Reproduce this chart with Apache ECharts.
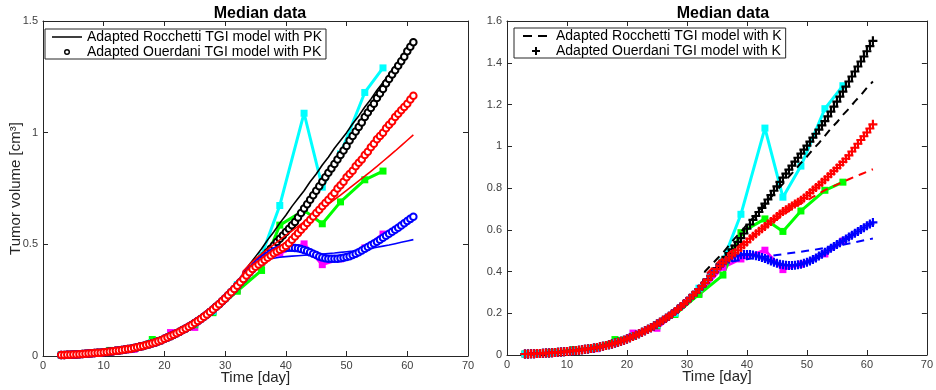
<!DOCTYPE html>
<html><head><meta charset="utf-8">
<script src="https://cdn.jsdelivr.net/npm/echarts@6/dist/echarts.min.js"></script>
<style>html,body{margin:0;padding:0;background:#fff}#c{width:936px;height:390px}</style>
</head><body><div id="c"></div>
<script>
// ---- data: measured medians ----
const dataDays = [3,5,7,8,11,14,15,18,21,25,28,32,36,39,43,46,49,53,56];
const dataCyan = [.005,.006,.009,.011,.02,.03,.034,.06,.09,.145,.2,.32,.45,.674,1.087,.756,.905,1.18,1.29];
const dataGreen = [.005,.007,.01,.013,.025,.032,.036,.074,.09,.14,.194,.29,.383,.586,.652,.592,.69,.789,.828];
const dataMagenta = [.004,.006,.008,.01,.018,.028,.03,.058,.105,.128,.2,.296,.42,.46,.502,.409,.435,.484,.546];

// ---- model sample times ----
const modelDaysEarly = [3,3.5,4,4.5,5,5.5,6,6.5,7,7.5,8,8.5,9,9.5,10,10.5,11,11.5,12,12.5,13,13.5,14,14.5,15,15.5,16,16.5,17,17.5,18,18.5,19,19.5,20,20.5,21,21.5,22,22.5,23,23.5,24,24.5,25,25.5,26,26.5,27,27.5,28,28.5,29,29.5,30,30.5,31,31.5,32,32.5,33];
const modelDaysLate = [33.5,34,34.5,35,35.5,36,36.5,37,37.5,38,38.5,39,39.5,40,40.5,41,41.5,42,42.5,43,43.5,44,44.5,45,45.5,46,46.5,47,47.5,48,48.5,49,49.5,50,50.5,51,51.5,52,52.5,53,53.5,54,54.5,55,55.5,56,56.5,57,57.5,58,58.5,59,59.5,60,60.5,61];
const lineDaysLate = [33,34,35,36,37,38,39,40,41,42,43,44,45,46,47,48,49,50,51,52,53,54,55,56,57,58,59,60,61];

// shared early growth phase (all fits coincide)
const sharedEarlyFit = [.005,.005,.006,.006,.007,.007,.008,.009,.010,.011,.012,.013,.014,.015,.017,.018,.020,.021,.023,.025,.027,.029,.031,.033,.036,.039,.042,.045,.049,.053,.057,.061,.066,.071,.077,.083,.089,.095,.102,.109,.116,.123,.131,.139,.148,.157,.166,.176,.186,.197,.208,.220,.232,.245,.258,.272,.286,.300,.315,.330,.345];

// ---- left panel: model with PK ----
const ouerdaniPkBlack = [.36,.375,.39,.405,.42,.435,.45,.465,.48,.495,.51,.525,.54,.555,.57,.585,.60,.62,.64,.66,.68,.70,.72,.74,.76,.78,.80,.82,.84,.86,.88,.90,.92,.94,.965,.985,1.005,1.025,1.045,1.07,1.09,1.11,1.13,1.155,1.175,1.195,1.22,1.24,1.26,1.28,1.30,1.32,1.34,1.365,1.385,1.405];
const ouerdaniPkRed = [.36,.375,.39,.40,.41,.42,.43,.44,.45,.46,.468,.476,.484,.493,.505,.52,.535,.55,.565,.58,.595,.61,.625,.64,.655,.67,.685,.70,.715,.73,.75,.765,.78,.80,.815,.83,.85,.865,.88,.90,.915,.935,.95,.97,.985,1.0,1.02,1.035,1.05,1.07,1.085,1.10,1.115,1.13,1.148,1.165];
const ouerdaniPkBlue = [.36,.375,.39,.405,.42,.43,.44,.45,.46,.468,.474,.479,.482,.484,.485,.485,.484,.482,.479,.475,.47,.464,.458,.452,.446,.441,.438,.436,.435,.435,.436,.438,.44,.443,.447,.452,.458,.465,.472,.48,.488,.496,.504,.512,.52,.529,.538,.547,.556,.565,.574,.584,.594,.604,.614,.624];
const rocchettiPkBlack = [.37,.41,.445,.48,.52,.555,.595,.63,.67,.705,.74,.78,.815,.855,.89,.93,.965,1.0,1.04,1.075,1.115,1.15,1.19,1.225,1.26,1.30,1.335,1.37,1.41];
const rocchettiPkRed = [.38,.41,.435,.457,.478,.499,.52,.54,.56,.58,.60,.62,.64,.66,.68,.70,.72,.742,.763,.784,.805,.827,.849,.872,.895,.918,.942,.966,.99];
const rocchettiPkBlue = [.38,.40,.415,.425,.432,.438,.442,.445,.447,.449,.451,.453,.455,.457,.459,.461,.464,.467,.47,.474,.478,.482,.487,.492,.497,.503,.509,.515,.521];

// ---- right panel: model with K ----
const ouerdaniKBlack = [.362,.38,.398,.416,.434,.452,.47,.488,.506,.524,.542,.56,.582,.605,.625,.647,.666,.685,.705,.725,.745,.766,.787,.808,.829,.85,.869,.888,.907,.926,.945,.965,.984,1.003,1.022,1.041,1.06,1.08,1.1,1.12,1.143,1.166,1.19,1.214,1.238,1.262,1.286,1.31,1.334,1.358,1.382,1.406,1.43,1.455,1.48,1.505];
const ouerdaniKRed = [.36,.378,.396,.412,.427,.441,.454,.466,.478,.49,.502,.515,.528,.541,.557,.569,.581,.593,.605,.616,.628,.64,.652,.664,.676,.687,.696,.705,.714,.723,.732,.741,.752,.764,.777,.79,.802,.814,.827,.84,.854,.868,.882,.896,.91,.925,.94,.956,.975,.993,1.012,1.03,1.048,1.066,1.085,1.105];
const ouerdaniKBlue = [.36,.378,.396,.412,.427,.44,.451,.46,.467,.473,.477,.48,.482,.482,.481,.479,.476,.472,.467,.462,.456,.45,.444,.439,.435,.432,.43,.429,.429,.43,.432,.435,.439,.444,.45,.457,.465,.474,.483,.492,.502,.511,.52,.529,.538,.547,.556,.565,.574,.583,.592,.601,.61,.619,.627,.635];
const rocchettiKBlack = [.40,.43,.46,.49,.525,.56,.59,.625,.655,.69,.72,.755,.79,.82,.855,.885,.92,.95,.985,1.015,1.05,1.085,1.115,1.15,1.18,1.215,1.245,1.28,1.31];
const rocchettiKRed = [.38,.41,.44,.465,.49,.51,.53,.55,.57,.59,.61,.63,.65,.67,.69,.71,.725,.74,.757,.773,.79,.803,.816,.829,.842,.854,.866,.878,.89];
const rocchettiKBlue = [.38,.405,.425,.437,.445,.45,.455,.459,.463,.467,.471,.475,.479,.483,.487,.491,.495,.499,.503,.508,.513,.518,.523,.528,.534,.54,.546,.552,.558];

// ---- text ----
const panelTitle = 'Median data';
const xName = 'Time [day]';
const yName = 'Tumor volume [cm³]';
const legendPk = ['Adapted Rocchetti TGI model with PK', 'Adapted Ouerdani TGI model with PK'];
const legendK = ['Adapted Rocchetti TGI model with K', 'Adapted Ouerdani TGI model with K'];

const FONT = 'Liberation Sans, Arial, Helvetica, sans-serif';
const PLUS = 'path://M-1,-0.24 L-0.24,-0.24 L-0.24,-1 L0.24,-1 L0.24,-0.24 L1,-0.24 L1,0.24 L0.24,0.24 L0.24,1 L-0.24,1 L-0.24,0.24 L-1,0.24 Z';
// legend icons drawn in a 30x10 box (tiny corner specks keep the box size)
const BOX = 'M0,0 L0.01,0 L0.01,0.01 Z M30,10 L29.99,10 L29.99,9.99 Z ';
const ICON_LINE = 'path://' + BOX + 'M0,4.3 L30,4.3 L30,5.7 L0,5.7 Z';
const ICON_DASH = 'path://' + BOX + 'M2,4 L11,4 L11,6 L2,6 Z M17,4 L26,4 L26,6 L17,6 Z';
const ICON_RING = 'path://' + BOX + 'M15,2 A3,3 0 1,1 15,8 A3,3 0 1,1 15,2 Z M15,3.4 A1.6,1.6 0 1,0 15,6.6 A1.6,1.6 0 1,0 15,3.4 Z';
const ICON_PLUS = 'path://' + BOX + 'M11,4 L14,4 L14,1 L16,1 L16,4 L19,4 L19,6 L16,6 L16,9 L14,9 L14,6 L11,6 Z';

function zip(xs, ys) { return xs.map((x, i) => [x, ys[i]]); }
const markerDays = modelDaysEarly.concat(modelDaysLate);
const lineDays = modelDaysEarly.slice(0, -1).concat(lineDaysLate);

function dataSeries(name, vals, color, gi) {
  return { name, type: 'line', xAxisIndex: gi * 2, yAxisIndex: gi * 2, data: zip(dataDays, vals),
    symbol: 'rect', symbolSize: 7, showSymbol: true, showAllSymbol: true, itemStyle: { color }, lineStyle: { color, width: 3 },
    silent: true, animation: false, z: 2 };
}
function fitLine(name, late, color, gi, dashed, z) {
  return { name, type: 'line', xAxisIndex: gi * 2, yAxisIndex: gi * 2,
    data: zip(lineDays, sharedEarlyFit.slice(0, -1).concat(late)), showSymbol: false, symbol: 'none',
    itemStyle: { color }, lineStyle: { color, width: dashed ? 2 : 1.6, type: dashed ? [8, 6] : 'solid' },
    silent: true, animation: false, z };
}
function fitMarkers(name, late, color, gi, plus, z) {
  return { name, type: 'line', xAxisIndex: gi * 2, yAxisIndex: gi * 2,
    data: zip(markerDays, sharedEarlyFit.concat(late)),
    symbol: plus ? PLUS : 'emptyCircle', symbolSize: plus ? 9 : 6.5, showSymbol: true, showAllSymbol: true,
    itemStyle: plus ? { color } : { color, borderColor: color, borderWidth: 1.8 },
    lineStyle: { width: 0, opacity: 0 }, silent: true, animation: false, z };
}

function axesFor(gi, ymax, yint, withName) {
  const common = { axisLine: { show: true, onZero: false, lineStyle: { color: '#262626', width: 1 } },
    axisTick: { show: true, inside: true, length: 5, lineStyle: { color: '#262626' } },
    splitLine: { show: false } };
  const lbl = { color: '#404040', fontSize: 11, fontFamily: FONT };
  const xa = [
    Object.assign({ type: 'value', gridIndex: gi, min: 0, max: 70, interval: 10, position: 'bottom',
      axisLabel: Object.assign({ margin: 4 }, lbl),
      name: xName, nameLocation: 'middle', nameGap: 14, nameMoveOverlap: false,
      nameTextStyle: { fontSize: 15, color: '#262626', fontFamily: FONT, verticalAlign: 'top' } }, common),
    Object.assign({ type: 'value', gridIndex: gi, min: 0, max: 70, interval: 10, position: 'top',
      axisLabel: { show: false } }, common)
  ];
  const ya = [
    Object.assign({ type: 'value', gridIndex: gi, min: 0, max: ymax, interval: yint, position: 'left',
      axisLabel: Object.assign({ margin: 5 }, lbl),
      name: withName ? yName : '', nameLocation: 'middle', nameGap: 20, nameMoveOverlap: false,
      nameTextStyle: { fontSize: 15, color: '#262626', fontFamily: FONT } }, common),
    Object.assign({ type: 'value', gridIndex: gi, min: 0, max: ymax, interval: yint, position: 'right',
      axisLabel: { show: false } }, common)
  ];
  return { xa, ya };
}
const A0 = axesFor(0, 1.5, 0.5, true);
const A1 = axesFor(1, 1.6, 0.2, false);

const legendCommon = { orient: 'vertical', borderColor: '#262626', borderWidth: 1, backgroundColor: '#fff',
  itemWidth: 30, itemHeight: 10, itemGap: 1, padding: [1, 4, 0, 7], selectedMode: false,
  textStyle: { fontSize: 14, color: '#000', fontFamily: FONT } };
const blackIcon = { color: '#000', borderWidth: 0 };

const option = {
  backgroundColor: '#fff',
  animation: false,
  title: [
    { text: panelTitle, left: 255, top: 1, textAlign: 'center', textStyle: { fontSize: 16, fontWeight: 'bold', color: '#000', fontFamily: FONT } },
    { text: panelTitle, left: 718, top: 1, textAlign: 'center', textStyle: { fontSize: 16, fontWeight: 'bold', color: '#000', fontFamily: FONT } }
  ],
  legend: [
    Object.assign({ left: 45, top: 29, data: [
      { name: legendPk[0], icon: ICON_LINE, itemStyle: blackIcon },
      { name: legendPk[1], icon: ICON_RING, itemStyle: blackIcon } ] }, legendCommon),
    Object.assign({ left: 514, top: 28, data: [
      { name: legendK[0], icon: ICON_DASH, itemStyle: blackIcon },
      { name: legendK[1], icon: ICON_PLUS, itemStyle: blackIcon } ] }, legendCommon)
  ],
  grid: [
    { left: 43, right: 468, top: 21, bottom: 33, show: false },
    { left: 507, right: 6, top: 21, bottom: 35, show: false }
  ],
  xAxis: A0.xa.concat(A1.xa),
  yAxis: A0.ya.concat(A1.ya),
  series: [
    dataSeries('data magenta', dataMagenta, '#ff00ff', 0),
    dataSeries('data green', dataGreen, '#00ff00', 0),
    dataSeries('data cyan', dataCyan, '#00ffff', 0),
    fitLine(legendPk[0], rocchettiPkBlack, '#000000', 0, false, 3),
    fitMarkers(legendPk[1], ouerdaniPkBlack, '#000000', 0, false, 4),
    fitLine('Rocchetti PK blue', rocchettiPkBlue, '#0000ff', 0, false, 5),
    fitMarkers('Ouerdani PK blue', ouerdaniPkBlue, '#0000ff', 0, false, 6),
    fitLine('Rocchetti PK red', rocchettiPkRed, '#ff0000', 0, false, 7),
    fitMarkers('Ouerdani PK red', ouerdaniPkRed, '#ff0000', 0, false, 8),

    dataSeries('data magenta K', dataMagenta, '#ff00ff', 1),
    dataSeries('data green K', dataGreen, '#00ff00', 1),
    dataSeries('data cyan K', dataCyan, '#00ffff', 1),
    fitLine(legendK[0], rocchettiKBlack, '#000000', 1, true, 3),
    fitMarkers(legendK[1], ouerdaniKBlack, '#000000', 1, true, 4),
    fitLine('Rocchetti K blue', rocchettiKBlue, '#0000ff', 1, true, 5),
    fitMarkers('Ouerdani K blue', ouerdaniKBlue, '#0000ff', 1, true, 6),
    fitLine('Rocchetti K red', rocchettiKRed, '#ff0000', 1, true, 7),
    fitMarkers('Ouerdani K red', ouerdaniKRed, '#ff0000', 1, true, 8)
  ]
};
const chart = echarts.init(document.getElementById('c'), null, { renderer: 'canvas' });
chart.setOption(option);
</script></body></html>
